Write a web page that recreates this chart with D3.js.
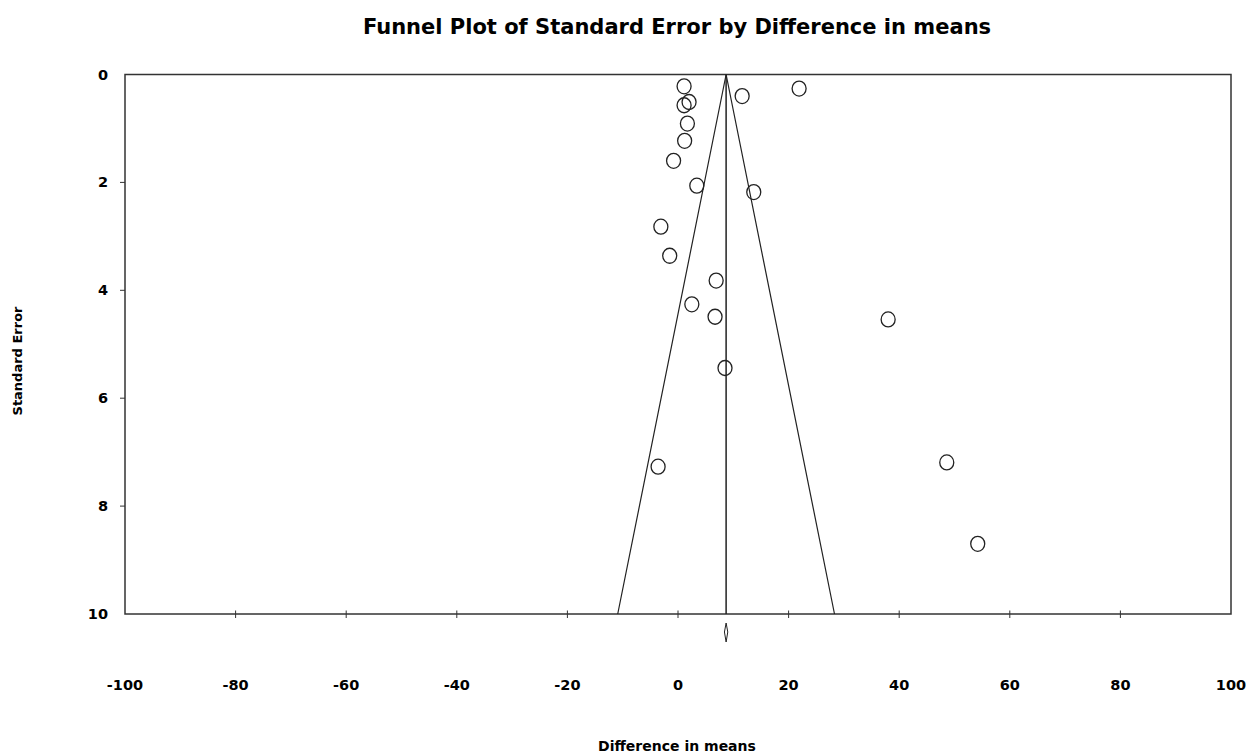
<!DOCTYPE html>
<html>
<head>
<meta charset="utf-8">
<script src="https://cdn.jsdelivr.net/npm/d3@7"></script>
<style>
  body { margin: 0; background: #fff; }
  svg text { font-family: "Comic Sans MS", "DejaVu Sans", sans-serif; font-weight: bold; fill: #000; }
</style>
</head>
<body>
<svg id="chart" width="1247" height="754"></svg>
<script>
// Study estimates: difference in means and standard error
const diffs = [1.1, 21.9, 11.6, 2.0, 1.1, 1.7, 1.2, -0.8, 3.4, 13.7, -3.1, -1.5, 6.9, 2.5, 6.7, 38.0, 8.5, -3.6, 48.6, 54.2];
const stdErrs = [0.22, 0.26, 0.40, 0.51, 0.57, 0.91, 1.23, 1.60, 2.06, 2.18, 2.82, 3.36, 3.82, 4.26, 4.49, 4.54, 5.44, 7.27, 7.19, 8.70];

// Combined estimate and its interval
const meanEffect = 8.7;
const ciLow = 8.4;
const ciHigh = 9.0;

const xTicks = [-100, -80, -60, -40, -20, 0, 20, 40, 60, 80, 100];
const yTicks = [0, 2, 4, 6, 8, 10];

window.addEventListener('load', () => {
    let svg = d3.select("svg#chart")
    let left = 125, right = 1231, top = 74.5, bottom = 614;

    let x = d3.scaleLinear().domain([-100, 100]).range([left, right]);
    let y = d3.scaleLinear().domain([0, 10]).range([top, bottom]);

    // Title
    svg.append("text")
        .attr("x", 677).attr("y", 34)
        .attr("text-anchor", "middle")
        .style("font-size", "21px")
        .text("Funnel Plot of Standard Error by Difference in means");

    // Frame
    svg.append("rect")
        .attr("x", left).attr("y", top)
        .attr("width", right - left).attr("height", bottom - top)
        .attr("fill", "none").attr("stroke", "#333").attr("stroke-width", 1.5);

    // x ticks crossing the bottom line
    svg.selectAll(".xt").data(xTicks.slice(1, -1)).enter().append("line")
        .attr("x1", d => x(d)).attr("x2", d => x(d))
        .attr("y1", bottom - 3.5).attr("y2", bottom + 4)
        .attr("stroke", "#333").attr("stroke-width", 1);

    svg.selectAll(".xl").data(xTicks).enter().append("text")
        .attr("x", d => x(d)).attr("y", 690)
        .attr("text-anchor", "middle")
        .style("font-size", "14.5px")
        .text(d => d);

    // y ticks outside the left edge
    svg.selectAll(".yt").data(yTicks.slice(1, -1)).enter().append("line")
        .attr("x1", left - 5).attr("x2", left)
        .attr("y1", d => y(d)).attr("y2", d => y(d))
        .attr("stroke", "#333").attr("stroke-width", 1);

    svg.selectAll(".yl").data(yTicks).enter().append("text")
        .attr("x", 108).attr("y", d => y(d) + 5)
        .attr("text-anchor", "end")
        .style("font-size", "14.5px")
        .text(d => d);

    // Axis titles
    svg.append("text")
        .attr("x", 677).attr("y", 751)
        .attr("text-anchor", "middle")
        .style("font-size", "14px")
        .text("Difference in means");

    svg.append("text")
        .attr("transform", "translate(22,361) rotate(-90)")
        .attr("text-anchor", "middle")
        .style("font-size", "13px")
        .text("Standard Error");

    // Funnel: 95% limits around the combined estimate
    let funnel = [[meanEffect - 1.96 * 10, 10], [meanEffect, 0], [meanEffect + 1.96 * 10, 10]];
    svg.append("path")
        .attr("d", d3.line().x(d => x(d[0])).y(d => y(d[1]))(funnel))
        .attr("fill", "none").attr("stroke", "#222").attr("stroke-width", 1.2);

    svg.append("line")
        .attr("x1", x(meanEffect)).attr("x2", x(meanEffect))
        .attr("y1", y(0)).attr("y2", y(10))
        .attr("stroke", "#222").attr("stroke-width", 1.5);

    // Combined estimate diamond below the axis
    let dia = [[meanEffect, 623], [ciHigh, 632], [meanEffect, 642], [ciLow, 632]];
    svg.append("path")
        .attr("d", d3.line().x(d => x(d[0])).y(d => d[1])(dia) + "Z")
        .attr("fill", "none").attr("stroke", "#222").attr("stroke-width", 1);

    // Studies
    svg.selectAll(".pt").data(diffs).enter().append("ellipse")
        .attr("cx", d => x(d))
        .attr("cy", (d, i) => y(stdErrs[i]))
        .attr("rx", 7).attr("ry", 7.5)
        .attr("fill", "none").attr("stroke", "#222").attr("stroke-width", 1.3);
})
</script>
</body>
</html>
